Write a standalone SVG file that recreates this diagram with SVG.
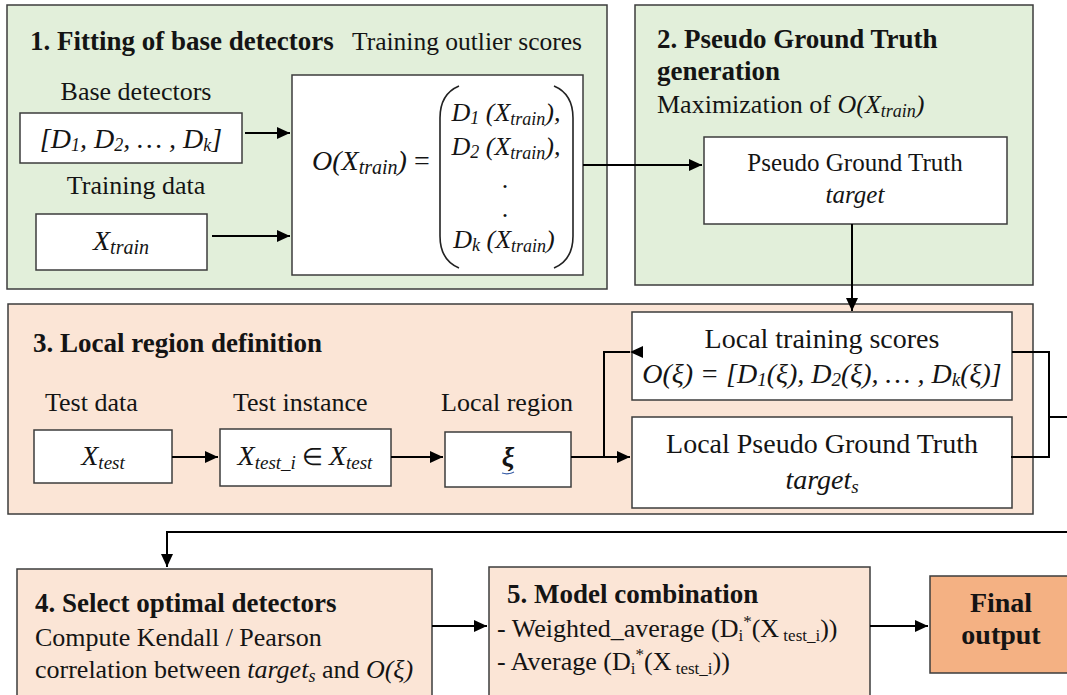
<svg xmlns="http://www.w3.org/2000/svg" width="1067" height="695" viewBox="0 0 1067 695">
  <defs>
    <marker id="arrow" markerUnits="userSpaceOnUse" markerWidth="13" markerHeight="12" refX="13" refY="6" orient="auto">
      <path d="M0,0 L13,6 L0,12 z" fill="#000"/>
    </marker>
  </defs>

  <!-- Stage 1: fitting of base detectors -->
  <g id="stage1">
    <rect x="7" y="5" width="600" height="284" fill="#e2efda" stroke="#3c3c3c" stroke-width="1.5"/>
    <text font-family="Liberation Serif" font-size="27" font-weight="bold" fill="#141414" x="30" y="50">1. Fitting of base detectors</text>
    <text font-family="Liberation Serif" font-size="25.5" fill="#141414" x="352" y="50">Training outlier scores</text>
    <text font-family="Liberation Serif" font-size="26" fill="#141414" text-anchor="middle" x="136" y="100">Base detectors</text>
    <text font-family="Liberation Serif" font-size="26" fill="#141414" text-anchor="middle" x="136" y="194">Training data</text>
  </g>

  <g id="base-detectors">
    <rect x="20" y="113" width="222" height="50" fill="#fff" stroke="#3c3c3c" stroke-width="1.5"/>
    <text font-family="Liberation Serif" font-size="28" font-style="italic" fill="#141414" text-anchor="middle" x="131" y="148">[D<tspan font-size="18" dy="3">1</tspan><tspan dy="-3">, D</tspan><tspan font-size="18" dy="3">2</tspan><tspan dy="-3">,  &#8230; , D</tspan><tspan font-size="18" dy="3">k</tspan><tspan dy="-3">]</tspan></text>
  </g>

  <g id="training-data">
    <rect x="36" y="214" width="171" height="56" fill="#fff" stroke="#3c3c3c" stroke-width="1.5"/>
    <text font-family="Liberation Serif" font-size="28" font-style="italic" fill="#141414" text-anchor="middle" x="121" y="250">X<tspan font-size="20" dy="4">train</tspan></text>
  </g>

  <g id="training-scores">
    <rect x="292" y="75" width="291" height="200" fill="#fff" stroke="#3c3c3c" stroke-width="1.5"/>
    <text font-family="Liberation Serif" font-size="28" font-style="italic" fill="#141414" x="312" y="170">O(X<tspan font-size="20" dy="4">train</tspan><tspan dy="-4">)</tspan><tspan font-style="normal"> =</tspan></text>
    <path d="M459,86 Q440,94 440,118 L440,236 Q440,260 459,268" fill="none" stroke="#222" stroke-width="1.6"/>
    <path d="M554,86 Q573,94 573,118 L573,236 Q573,260 554,268" fill="none" stroke="#222" stroke-width="1.6"/>
    <text font-family="Liberation Serif" font-size="26" font-style="italic" fill="#141414" text-anchor="middle" x="506" y="121">D<tspan font-size="18" dy="3">1</tspan><tspan dy="-3"> (X</tspan><tspan font-size="18" dy="4">train</tspan><tspan dy="-4">),</tspan></text>
    <text font-family="Liberation Serif" font-size="26" font-style="italic" fill="#141414" text-anchor="middle" x="506" y="155">D<tspan font-size="18" dy="3">2</tspan><tspan dy="-3"> (X</tspan><tspan font-size="18" dy="4">train</tspan><tspan dy="-4">),</tspan></text>
    <text font-family="Liberation Serif" font-size="26" fill="#141414" text-anchor="middle" x="505" y="188">.</text>
    <text font-family="Liberation Serif" font-size="26" fill="#141414" text-anchor="middle" x="505" y="217">.</text>
    <text font-family="Liberation Serif" font-size="26" font-style="italic" fill="#141414" text-anchor="middle" x="504" y="248">D<tspan font-size="18" dy="3">k</tspan><tspan dy="-3"> (X</tspan><tspan font-size="18" dy="4">train</tspan><tspan dy="-4">)</tspan></text>
  </g>

  <!-- Stage 2: pseudo ground truth -->
  <g id="stage2">
    <rect x="635" y="5" width="398" height="280" fill="#e2efda" stroke="#3c3c3c" stroke-width="1.5"/>
    <text font-family="Liberation Serif" font-size="27" font-weight="bold" fill="#141414" x="657" y="48">2. Pseudo Ground Truth</text>
    <text font-family="Liberation Serif" font-size="27" font-weight="bold" fill="#141414" x="657" y="80">generation</text>
    <text font-family="Liberation Serif" font-size="26" fill="#141414" x="657" y="113">Maximization of  <tspan font-style="italic">O(X</tspan><tspan font-style="italic" font-size="18" dy="4">train</tspan><tspan font-style="italic" dy="-4">)</tspan></text>
  </g>

  <g id="pseudo-ground-truth">
    <rect x="704" y="137" width="303" height="87" fill="#fff" stroke="#3c3c3c" stroke-width="1.5"/>
    <text font-family="Liberation Serif" font-size="25" fill="#141414" text-anchor="middle" x="855" y="171">Pseudo Ground Truth</text>
    <text font-family="Liberation Serif" font-size="25" font-style="italic" fill="#141414" text-anchor="middle" x="855" y="203">target</text>
  </g>

  <!-- Stage 3: local region definition -->
  <g id="stage3">
    <rect x="8" y="304" width="1025" height="210" fill="#fbe5d6" stroke="#3c3c3c" stroke-width="1.5"/>
    <text font-family="Liberation Serif" font-size="27" font-weight="bold" fill="#141414" x="33" y="352">3. Local region definition</text>
    <text font-family="Liberation Serif" font-size="26" fill="#141414" x="45" y="411">Test data</text>
    <text font-family="Liberation Serif" font-size="26" fill="#141414" x="233" y="411">Test instance</text>
    <text font-family="Liberation Serif" font-size="26" fill="#141414" x="441" y="411">Local region</text>
  </g>

  <g id="test-data">
    <rect x="34" y="430" width="138" height="53" fill="#fff" stroke="#3c3c3c" stroke-width="1.5"/>
    <text font-family="Liberation Serif" font-size="28" font-style="italic" fill="#141414" text-anchor="middle" x="103" y="465">X<tspan font-size="19" dy="4">test</tspan></text>
  </g>

  <g id="test-instance">
    <rect x="220" y="429" width="171" height="57" fill="#fff" stroke="#3c3c3c" stroke-width="1.5"/>
    <text font-family="Liberation Serif" font-size="28" font-style="italic" fill="#141414" text-anchor="middle" x="305" y="465">X<tspan font-size="19" dy="4">test_i</tspan><tspan dy="-4" font-style="normal" font-size="24"> &#8712; </tspan><tspan>X</tspan><tspan font-size="19" dy="4">test</tspan></text>
  </g>

  <g id="local-region">
    <rect x="445" y="432" width="126" height="55" fill="#fff" stroke="#3c3c3c" stroke-width="1.5"/>
    <text font-family="Liberation Serif" font-size="28" font-style="italic" font-weight="bold" fill="#141414" text-anchor="middle" x="508" y="466">&#958;</text>
    <path d="M502,473 Q508,475 514,472" stroke="#3a5fa8" stroke-width="1.2" fill="none"/>
  </g>

  <g id="local-training-scores">
    <rect x="632" y="312" width="380" height="88" fill="#fff" stroke="#3c3c3c" stroke-width="1.5"/>
    <text font-family="Liberation Serif" font-size="28" fill="#141414" text-anchor="middle" x="822" y="348">Local training scores</text>
    <text font-family="Liberation Serif" font-size="28" font-style="italic" fill="#141414" text-anchor="middle" x="822" y="383">O(&#958;) = [D<tspan font-size="19" dy="3">1</tspan><tspan dy="-3">(&#958;), D</tspan><tspan font-size="19" dy="3">2</tspan><tspan dy="-3">(&#958;),  &#8230; , D</tspan><tspan font-size="19" dy="3">k</tspan><tspan dy="-3">(&#958;)]</tspan></text>
  </g>

  <g id="local-pseudo-ground-truth">
    <rect x="632" y="417" width="380" height="91" fill="#fff" stroke="#3c3c3c" stroke-width="1.5"/>
    <text font-family="Liberation Serif" font-size="28" fill="#141414" text-anchor="middle" x="822" y="453">Local Pseudo Ground Truth</text>
    <text font-family="Liberation Serif" font-size="28" font-style="italic" fill="#141414" text-anchor="middle" x="822" y="489">target<tspan font-size="19" dy="4">s</tspan></text>
  </g>

  <!-- Stage 4: detector selection -->
  <g id="stage4">
    <rect x="17" y="569" width="415" height="132" fill="#fbe5d6" stroke="#3c3c3c" stroke-width="1.5"/>
    <text font-family="Liberation Serif" font-size="27" font-weight="bold" fill="#141414" x="35" y="612">4. Select optimal detectors</text>
    <text font-family="Liberation Serif" font-size="26" fill="#141414" x="35" y="646">Compute Kendall / Pearson</text>
    <text font-family="Liberation Serif" font-size="26" fill="#141414" x="35" y="678">correlation between <tspan font-style="italic">target</tspan><tspan font-style="italic" font-size="18" dy="4">s</tspan><tspan dy="-4"> and </tspan><tspan font-style="italic">O(&#958;)</tspan></text>
  </g>

  <!-- Stage 5: model combination -->
  <g id="stage5">
    <rect x="489" y="567" width="381" height="134" fill="#fbe5d6" stroke="#3c3c3c" stroke-width="1.5"/>
    <text font-family="Liberation Serif" font-size="27" font-weight="bold" fill="#141414" x="507" y="603">5. Model combination</text>
    <text font-family="Liberation Serif" font-size="26" fill="#141414" x="497" y="637">- Weighted_average (D<tspan font-size="17" dy="4">i</tspan><tspan font-size="17" dy="-14">*</tspan><tspan dy="10">(X</tspan><tspan font-size="17" dy="4"> test_i</tspan><tspan dy="-4">))</tspan></text>
    <text font-family="Liberation Serif" font-size="26" fill="#141414" x="497" y="670">- Average (D<tspan font-size="17" dy="4">i</tspan><tspan font-size="17" dy="-14">*</tspan><tspan dy="10">(X</tspan><tspan font-size="17" dy="4"> test_i</tspan><tspan dy="-4">))</tspan></text>
  </g>

  <g id="final-output">
    <rect x="930" y="576" width="145" height="97" fill="#f4b183" stroke="#3c3c3c" stroke-width="1.5"/>
    <text font-family="Liberation Serif" font-size="28" font-weight="bold" fill="#141414" text-anchor="middle" x="1001" y="612">Final</text>
    <text font-family="Liberation Serif" font-size="28" font-weight="bold" fill="#141414" text-anchor="middle" x="1001" y="644">output</text>
  </g>

  <!-- Connectors -->
  <g id="connectors" stroke="#000" stroke-width="2" fill="none">
    <line x1="245" y1="133" x2="290" y2="133" marker-end="url(#arrow)"/>
    <line x1="212" y1="236" x2="290" y2="236" marker-end="url(#arrow)"/>
    <line x1="583" y1="165" x2="702" y2="165" marker-end="url(#arrow)"/>
    <line x1="852" y1="224" x2="852" y2="311" marker-end="url(#arrow)"/>
    <line x1="172" y1="457" x2="218" y2="457" marker-end="url(#arrow)"/>
    <line x1="391" y1="457" x2="443" y2="457" marker-end="url(#arrow)"/>
    <polyline points="571,457 604,457"/>
    <polyline points="630,352 604,352 604,457 630,457" marker-start="url(#arrow)" marker-end="url(#arrow)"/>
    <polyline points="1012,352 1049,352 1049,457 1011,457"/>
    <polyline points="1049,417 1067,417"/>
    <polyline points="1067,532 167,532 167,567" marker-end="url(#arrow)"/>
    <line x1="432" y1="626" x2="487" y2="626" marker-end="url(#arrow)"/>
    <line x1="870" y1="626" x2="928" y2="626" marker-end="url(#arrow)"/>
  </g>
</svg>
